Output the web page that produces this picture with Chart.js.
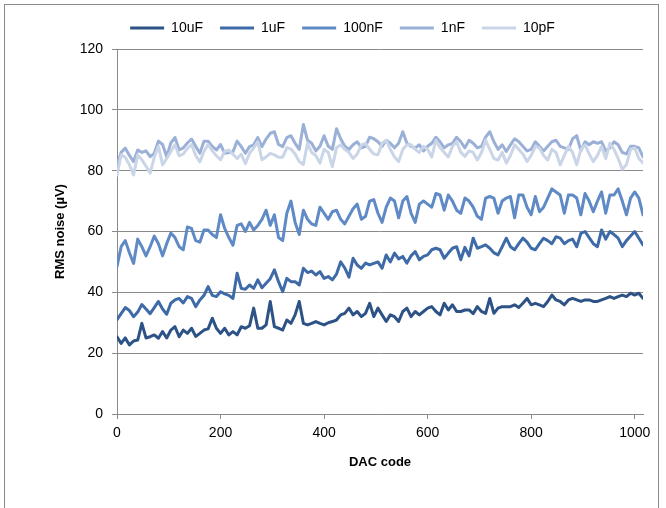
<!DOCTYPE html>
<html>
<head>
<meta charset="utf-8">
<title>RMS noise vs DAC code</title>
<script src="https://cdn.jsdelivr.net/npm/chart.js@4/dist/chart.umd.min.js"></script>
<style>
  html, body { margin: 0; padding: 0; background: #fff; }
  canvas { display: block; }
</style>
</head>
<body>
<canvas id="noiseChart" width="666" height="508"></canvas>
<script>
// DAC codes (x), one sample every 8 codes
const dacCodes = [
  0, 8, 16, 24, 32, 40, 48, 56, 64, 72,
  80, 88, 96, 104, 112, 120, 128, 136, 144, 152,
  160, 168, 176, 184, 192, 200, 208, 216, 224, 232,
  240, 248, 256, 264, 272, 280, 288, 296, 304, 312,
  320, 328, 336, 344, 352, 360, 368, 376, 384, 392,
  400, 408, 416, 424, 432, 440, 448, 456, 464, 472,
  480, 488, 496, 504, 512, 520, 528, 536, 544, 552,
  560, 568, 576, 584, 592, 600, 608, 616, 624, 632,
  640, 648, 656, 664, 672, 680, 688, 696, 704, 712,
  720, 728, 736, 744, 752, 760, 768, 776, 784, 792,
  800, 808, 816, 824, 832, 840, 848, 856, 864, 872,
  880, 888, 896, 904, 912, 920, 928, 936, 944, 952,
  960, 968, 976, 984, 992, 1000, 1008, 1016
];

const seriesNames = ['10uF', '1uF', '100nF', '1nF', '10pF'];

const noise10uF = [
  25.4, 23.2, 25, 22.7, 24, 24.3, 29.8, 25, 25.4, 26,
  24.9, 27.1, 25, 27.6, 28.7, 25.4, 27.6, 26.5, 28.2, 25.5,
  26.5, 27.6, 28, 31.5, 28.2, 26.5, 28.2, 26, 27.1, 26,
  28.7, 28.2, 29, 34.8, 28.2, 28.2, 29.3, 37, 28.7, 28.2,
  27.6, 30.9, 29.8, 32.6, 37, 29.8, 29.3, 29.8, 30.4, 29.8,
  29.3, 30, 30.4, 30.9, 32.6, 33.1, 34.8, 32.6, 33.7, 32,
  33.1, 36.4, 32, 34.8, 32.6, 30.4, 32.6, 32, 30.4, 33.7,
  34.8, 32, 33.7, 32.6, 33.7, 34.8, 35.3, 33.7, 32.6, 36.4,
  34.2, 35.9, 33.7, 33.7, 34.2, 34.2, 33, 35.3, 33.7, 33.1,
  38, 33.1, 34.8, 35.3, 35.3, 35.3, 35.9, 35, 36.4, 38,
  35.9, 36.4, 35.9, 35.3, 37, 39.1, 37.5, 37, 35.9, 37.5,
  38, 37.5, 37, 37.5, 37.5, 37, 37, 37.5, 38, 38.6,
  38, 38.6, 39.1, 38.6, 39.7, 39.1, 39.7, 38
];

const noise1uF = [
  31, 33, 35, 34, 32, 33.5, 36, 34.5, 33, 35,
  37, 34.5, 32.8, 36.4, 37.5, 38, 36.5, 38.6, 38, 35.3,
  37.5, 39, 41.9, 39, 38.6, 40.2, 39.5, 39, 38, 46.3,
  41.3, 41, 42.4, 41.3, 44.1, 41.5, 43, 44.5, 47.4, 43.5,
  40.2, 44.6, 43.5, 43.5, 42.4, 47.9, 46.5, 47, 45.7, 46.8,
  44.6, 45.2, 44.1, 46, 50, 48, 45, 51.2, 49, 47.9,
  49.6, 49, 49.5, 50, 47.9, 52.3, 50, 52.9, 51, 51.8,
  49.6, 52, 53.4, 50.7, 51.8, 52.3, 54, 54.5, 54, 51.2,
  52.9, 54.5, 55, 50.7, 54.8, 52, 57.8, 54.5, 55, 55.6,
  54.5, 53, 52.3, 55, 57.8, 55, 54, 56, 57.8, 56.5,
  54.5, 54, 56, 57.8, 57, 56, 58.3, 57.8, 56, 57,
  57.5, 55, 59.4, 60, 58, 56, 55, 60.5, 57.5, 60,
  59, 57.8, 55, 57, 58.5, 60, 57.8, 55.6
];

const noise100nF = [
  48.5, 55, 57, 53, 49.5, 57.5, 55, 52, 55, 58.5,
  56, 52, 56, 59.5, 58, 55, 54, 61.5, 61, 57,
  56.5, 60.5, 60.5, 59, 58, 65.5, 61, 58, 55.5, 62,
  62.5, 60, 63, 60.5, 62, 64, 67, 62, 65.5, 58,
  57, 66, 70, 63, 59, 67, 64, 62.5, 62, 68,
  66, 64, 66.5, 67, 64, 62.5, 65, 67.5, 69, 64,
  65, 70, 70.5, 66, 63, 68, 71, 70, 64.5, 70,
  71.5, 66, 63, 69, 70, 69, 68, 72.5, 72, 67,
  72, 70, 67, 66, 71, 70, 68, 65, 64, 71,
  71.5, 71, 66, 70, 71, 71.5, 64.5, 72, 72, 68,
  65.5, 71.5, 66.5, 68, 71, 74, 73, 72, 66, 72,
  72, 71, 65.5, 72.5, 70, 66.5, 70, 73, 66, 72,
  72, 74, 70, 65.5, 71, 73, 71, 65.5
];

const noise1nF = [
  82, 86, 87.4, 85, 83, 86.8, 86, 86.5, 84.6, 85.7,
  89.7, 88.6, 84.6, 89.1, 90.9, 86.8, 87.5, 89.1, 90.4, 88,
  85.7, 89.7, 89.7, 88, 86.8, 88.6, 85.7, 86, 86.2, 89.7,
  87.9, 85.7, 87.9, 88.5, 90.9, 87.9, 90.4, 92.3, 92.8, 88.6,
  87.9, 90.9, 91.5, 89, 87, 95.2, 90, 89, 86.5, 88,
  91.5, 88, 87, 93.8, 90.5, 88, 87, 88.5, 89.5, 87.5,
  88, 91, 90.5, 89.5, 88, 90, 89, 87.5, 89, 92.8,
  89, 88, 87.5, 88.5, 86.5, 88, 89, 91, 89.5, 87.5,
  88.5, 89, 91, 89.5, 87.5, 90, 89, 87.5, 88, 91,
  92.8, 89.5, 87, 88.5, 86.3, 88.5, 90.5, 89.5, 88, 86.5,
  87, 89.5, 88, 86.5, 88, 89.5, 90, 88, 87.5, 87,
  90.5, 91.5, 86.5, 89.5, 88.5, 89.5, 89, 89.5, 86.5, 87.5,
  89.5, 88.5, 86, 85.5, 88, 88, 87.5, 84.5
];

const noise10pF = [
  78.6, 85.2, 84.4, 81.9, 78.6, 85.2, 83.6, 81.5, 79.2, 84.4,
  88, 81.9, 84, 86.3, 88.5, 84.9, 85.5, 87.3, 88.6, 85,
  82.9, 86.3, 88.6, 86.5, 84.9, 83.6, 86.3, 86.8, 85.4, 84,
  85.4, 82.3, 85.7, 87.5, 89.5, 83.6, 84.5, 85.7, 85.2, 84.4,
  84.4, 87.6, 87.1, 85.5, 83, 82, 89, 86, 85, 82.5,
  87, 86, 81.3, 87.5, 88.5, 87, 86, 84, 85.5, 88.5,
  89, 87, 85.5, 85.2, 89, 90, 87, 84.5, 83, 87,
  88.5, 88.5, 87, 86, 88, 87, 84.5, 90, 87.5, 86,
  84.5, 88, 89.5, 86, 84.7, 86.5, 86, 83.5, 86, 90,
  87, 84, 83.5, 86, 82.5, 85, 88.5, 87, 85.5, 83,
  85, 88, 87.5, 85, 83.5, 87, 86, 81.9, 85, 88,
  86, 81.9, 87, 88.5, 85.5, 83, 85, 88, 84, 89,
  87, 84, 80.5, 82, 87, 87.5, 84, 82.5
];

const xTickValues = [0, 200, 400, 600, 800, 1000];
const yTickValues = [0, 20, 40, 60, 80, 100, 120];

document.addEventListener('DOMContentLoaded', () => {
  const colors = ['#2d5386', '#3e6ba8', '#5f8ac5', '#9bb0d7', '#cad5e8'];
  const values = [noise10uF, noise1uF, noise100nF, noise1nF, noise10pF];
  const axisGray = '#8a8a8a';
  const tickFont = { family: "'Liberation Sans', Arial, sans-serif", size: 14 };
  const titleFont = { family: "'Liberation Sans', Arial, sans-serif", size: 13, weight: 'bold' };

  const datasets = seriesNames.map((name, i) => ({
    label: name,
    data: dacCodes.map((code, k) => ({ x: code, y: values[i][k] })),
    borderColor: colors[i],
    backgroundColor: colors[i],
    borderWidth: 3,
    pointRadius: 0,
    tension: 0,
    borderJoinStyle: 'round',
    borderCapStyle: 'round',
    order: seriesNames.length - 1 - i   // later series drawn on top, like Excel
  }));

  // grey frame round the whole chart
  const frame = {
    id: 'frame',
    beforeDraw(chart) {
      const c = chart.ctx;
      c.save();
      c.fillStyle = '#fff';
      c.fillRect(0, 0, chart.width, chart.height);
      c.strokeStyle = axisGray;
      c.lineWidth = 1;
      c.strokeRect(4.5, 4.5, 654, 520);
      c.restore();
    }
  };

  // a bit more room under the legend and nudge it right
  const legendFit = {
    id: 'legendFit',
    beforeInit(chart) {
      const fit = chart.legend.fit;
      chart.legend.fit = function () {
        fit.call(this);
        this.height += 4;
        this.lineWidths = this.lineWidths.map(w => w - 42);
      };
    }
  };

  const ctx = document.getElementById('noiseChart').getContext('2d');

  new Chart(ctx, {
    type: 'line',
    data: { datasets },
    options: {
      responsive: false,
      animation: false,
      devicePixelRatio: 1,
      layout: { padding: { top: 4, right: 23, left: 0, bottom: 0 } },
      plugins: {
        tooltip: { enabled: false },
        legend: {
          position: 'top',
          labels: {
            usePointStyle: true,
            pointStyle: 'line',
            pointStyleWidth: 34,
            boxHeight: 3,
            padding: 17,
            color: '#000',
            font: tickFont,
            sort: (a, b) => a.datasetIndex - b.datasetIndex
          }
        }
      },
      scales: {
        x: {
          type: 'linear',
          min: dacCodes[0],
          max: dacCodes[dacCodes.length - 1],
          afterBuildTicks: scale => {
            scale.ticks = xTickValues.map(v => ({ value: v }));
          },
          ticks: {
            maxRotation: 0,
            padding: 6,
            color: '#000',
            font: tickFont,
            callback: v => String(v)
          },
          grid: { drawOnChartArea: false, tickLength: 5, color: axisGray },
          border: { color: axisGray },
          title: {
            display: true,
            text: 'DAC code',
            color: '#000',
            font: titleFont,
            padding: { top: 0, bottom: 38 }
          },
          afterFit: scale => { scale.height = 94; }
        },
        y: {
          min: yTickValues[0],
          max: yTickValues[yTickValues.length - 1],
          afterBuildTicks: scale => {
            scale.ticks = yTickValues.map(v => ({ value: v }));
          },
          ticks: {
            padding: 9,
            color: '#000',
            font: tickFont
          },
          grid: { color: axisGray, tickLength: 5 },
          border: { color: axisGray },
          title: {
            display: true,
            text: 'RMS noise (µV)',
            color: '#000',
            font: titleFont,
            padding: { top: 53, bottom: 0 }
          },
          afterFit: scale => { scale.width = 117; }
        }
      }
    },
    plugins: [frame, legendFit]
  });
});
</script>
</body>
</html>
